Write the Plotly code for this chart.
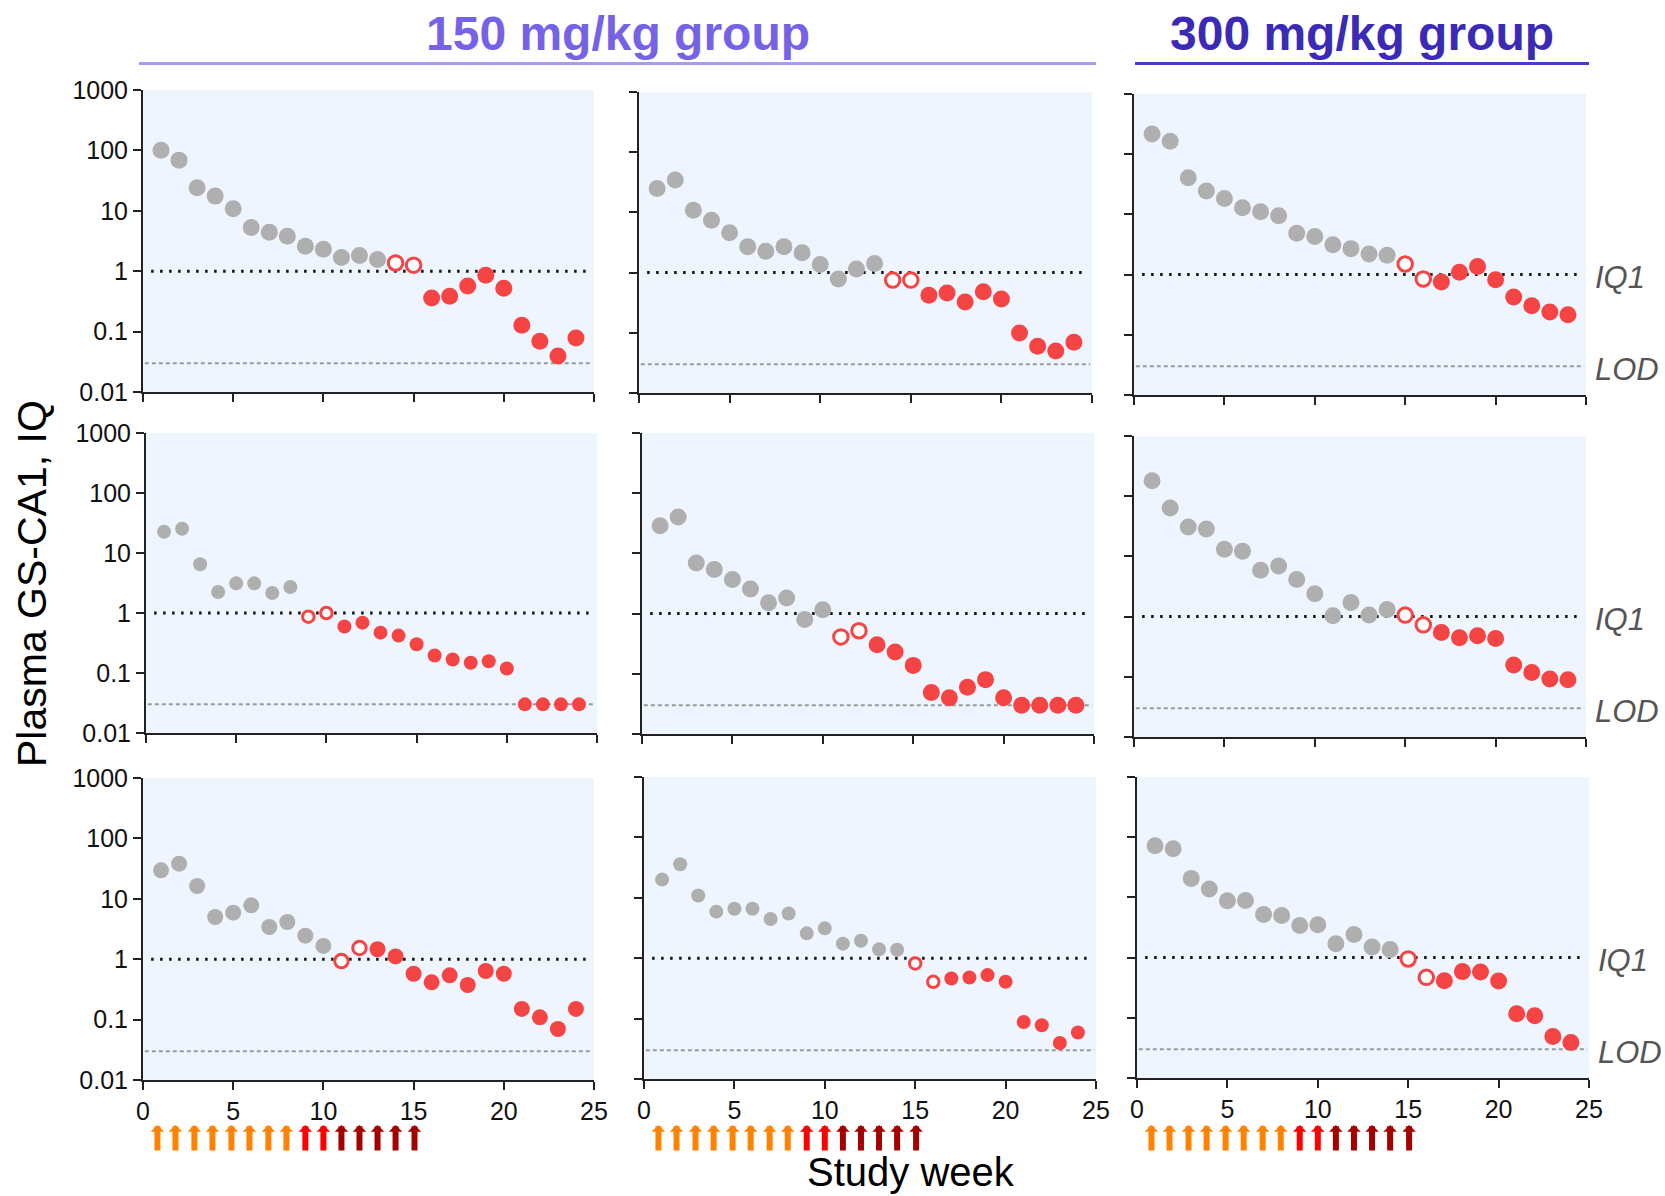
import math
import plotly.graph_objects as go

W, H = 1665, 1196

# ---------------- data ----------------
weeks = list(range(1, 25))

# Plasma GS-CA1 (IQ) per animal, panels ordered row by row
p11 = [101, 69, 24, 17.5, 10.8, 5.3, 4.4, 3.8, 2.6, 2.3, 1.69, 1.82, 1.56, 1.37, 1.26,
       0.36, 0.385, 0.57, 0.86, 0.52, 0.127, 0.069, 0.0395, 0.0785]
p12 = [25, 34.4, 10.9, 7.4, 4.6, 2.7, 2.27, 2.7, 2.13, 1.36, 0.78, 1.15, 1.42, 0.75, 0.75,
       0.42, 0.46, 0.326, 0.48, 0.365, 0.0995, 0.0597, 0.0499, 0.0697]
p13 = [217, 164, 40.7, 24.5, 18.3, 12.9, 11.1, 9.5, 4.85, 4.3, 3.14, 2.7, 2.2, 2.09, 1.5,
       0.845, 0.755, 1.09, 1.36, 0.82, 0.425, 0.305, 0.239, 0.216]
p21 = [22.6, 25.3, 6.5, 2.24, 3.12, 3.12, 2.16, 2.72, 0.87, 1.0, 0.594, 0.69, 0.47, 0.42,
       0.302, 0.196, 0.168, 0.148, 0.157, 0.119, 0.03, 0.03, 0.03, 0.03]
p22 = [28.9, 40.3, 6.9, 5.4, 3.7, 2.56, 1.52, 1.82, 0.80, 1.16, 0.41, 0.52, 0.305, 0.23,
       0.138, 0.049, 0.040, 0.0596, 0.080, 0.040, 0.03, 0.03, 0.03, 0.03]
p23 = [181, 63.8, 30.9, 28.6, 13.2, 12.2, 5.9, 6.9, 4.13, 2.39, 1.03, 1.72, 1.06, 1.31, 1.06,
       0.73, 0.546, 0.445, 0.48, 0.433, 0.157, 0.118, 0.092, 0.0895]
p31 = [29.6, 38.2, 16.3, 5.0, 5.9, 7.8, 3.41, 4.13, 2.45, 1.66, 0.93, 1.53, 1.46, 1.11, 0.575,
       0.414, 0.54, 0.374, 0.637, 0.575, 0.15, 0.109, 0.0698, 0.15]
p32 = [20, 36, 10.9, 5.9, 6.6, 6.6, 4.46, 5.5, 2.58, 3.12, 1.74, 1.95, 1.4, 1.38, 0.82,
       0.407, 0.462, 0.48, 0.525, 0.407, 0.088, 0.0777, 0.0395, 0.0587]
p33 = [72, 64.5, 20.7, 13.8, 8.8, 8.9, 5.2, 5.0, 3.4, 3.5, 1.7, 2.43, 1.5, 1.36, 0.95,
       0.47, 0.414, 0.585, 0.577, 0.408, 0.117, 0.108, 0.049, 0.039]

# G = before switch (grey), O = open red, R = filled red
s11 = "G" * 13 + "O" * 2 + "R" * 9
s12 = "G" * 13 + "O" * 2 + "R" * 9
s13 = "G" * 14 + "O" * 2 + "R" * 8
s21 = "G" * 8 + "O" * 2 + "R" * 14
s22 = "G" * 10 + "O" * 2 + "R" * 12
s23 = "G" * 14 + "O" * 2 + "R" * 8
s31 = "G" * 10 + "O" * 2 + "R" * 12
s32 = "G" * 14 + "O" * 2 + "R" * 8
s33 = "G" * 14 + "O" * 2 + "R" * 8

IQ1 = 1.0
LOD = 0.03

dose_weeks = [0.8, 1.8, 2.85, 3.85, 4.9, 5.9, 6.95, 7.95, 9.0, 10.0, 11.0, 12.0, 13.0, 14.0, 15.05]
dose_phase = ["A"] * 8 + ["B"] * 2 + ["C"] * 5

x_ticks = [0, 5, 10, 15, 20, 25]
y_ticks = [0.01, 0.1, 1, 10, 100, 1000]
y_ticklabels = ["0.01", "0.1", "1", "10", "100", "1000"]

group_titles = ["150 mg/kg group", "300 mg/kg group"]

# ---------------- styling / layout ----------------
values = [p11, p12, p13, p21, p22, p23, p31, p32, p33]
statuses = [s11, s12, s13, s21, s22, s23, s31, s32, s33]
msizes = [17, 17, 17, 14, 17, 17, 16, 14, 17]

# pixel boxes of each panel: x(week 0), x(week 25), y(1000), y(0.01)
boxes = [
    (143, 594, 90, 392), (639, 1092, 92, 393), (1134, 1586, 94, 395),
    (146, 597, 433, 733), (642, 1094, 433, 734), (1134, 1586, 436, 737),
    (143, 594, 778, 1080), (644, 1096, 777, 1079), (1137, 1589, 777, 1078),
]

FONT = "Liberation Sans, Arial, sans-serif"
GREY = "#AFAFAF"
RED = "#F54444"
BG = "#EEF5FF"
AX = "#222222"
phase_colors = {"A": "#FF8200", "B": "#FF0000", "C": "#A50000"}

fig = go.Figure()
layout = {}

for k in range(9):
    r, c = divmod(k, 3)
    n = "" if k == 0 else str(k + 1)
    xa, ya = "x" + n, "y" + n
    vals, st, ms = values[k], statuses[k], msizes[k]

    fig.add_trace(go.Scatter(x=[0.1, 24.9], y=[LOD, LOD], xaxis=xa, yaxis=ya, mode="lines",
                             line=dict(color="#9A9A9A", width=2, dash="4px,3px"),
                             hoverinfo="skip"))
    fig.add_trace(go.Scatter(x=[0.45, 24.55], y=[IQ1, IQ1], xaxis=xa, yaxis=ya, mode="lines",
                             line=dict(color="#111111", width=3, dash="2.5px,6.5px"),
                             hoverinfo="skip"))

    for kind in "GRO":
        xs = [w for w, s in zip(weeks, st) if s == kind]
        ys = [v for v, s in zip(vals, st) if s == kind]
        if kind == "G":
            mk = dict(size=ms, color=GREY, line=dict(width=0))
        elif kind == "R":
            mk = dict(size=ms, color=RED, line=dict(width=0))
        else:
            mk = dict(size=ms - 2.5, color="white", line=dict(width=3, color=RED))
        fig.add_trace(go.Scatter(x=xs, y=ys, xaxis=xa, yaxis=ya, mode="markers",
                                 marker=mk, hoverinfo="skip"))

    x0, x1, yt, yb = boxes[k]
    layout["xaxis" + n] = dict(
        domain=[x0 / W, x1 / W], range=[0, 25], anchor=ya, automargin=False,
        tickvals=x_ticks, ticktext=[str(t) for t in x_ticks], showticklabels=(r == 2),
        ticks="outside", ticklen=8, tickwidth=2, tickcolor=AX,
        showline=True, linecolor=AX, linewidth=2, showgrid=False, zeroline=False,
        tickfont=dict(family=FONT, size=25, color="#111111"),
    )
    layout["yaxis" + n] = dict(
        domain=[1 - yb / H, 1 - yt / H], type="log", range=[-2, 3], anchor=xa,
        automargin=False,
        tickvals=y_ticks, ticktext=y_ticklabels, showticklabels=(c == 0),
        ticks="outside", ticklen=8, tickwidth=2, tickcolor=AX,
        showline=True, linecolor=AX, linewidth=2, showgrid=False, zeroline=False,
        tickfont=dict(family=FONT, size=25, color="#111111"),
    )

annotations = []
# IQ1 / LOD labels on right column
for k in (2, 5, 8):
    n = str(k + 1)
    for lab, val in (("IQ1", IQ1), ("LOD", LOD)):
        annotations.append(dict(
            xref="x" + n + " domain", yref="y" + n, x=1, y=math.log10(val),
            xanchor="left", yanchor="middle", xshift=7, yshift=-3, showarrow=False,
            text="<i>" + lab + "</i>", font=dict(family=FONT, size=31, color="#555555")))

# dosing arrows under bottom row
for k in (6, 7, 8):
    n = str(k + 1)
    for w, ph in zip(dose_weeks, dose_phase):
        annotations.append(dict(
            xref="x" + n, yref="paper", x=w, y=1 - 1125 / H, ax=0, ay=27,
            text="", showarrow=True, arrowhead=1, arrowsize=0.38, arrowwidth=6,
            arrowcolor=phase_colors[ph]))

# axis titles
annotations.append(dict(xref="paper", yref="paper", x=32 / W, y=1 - 584 / H,
                        text="Plasma GS-CA1, IQ", textangle=-90, showarrow=False,
                        xanchor="center", yanchor="middle",
                        font=dict(family=FONT, size=41, color="black")))
annotations.append(dict(xref="paper", yref="paper", x=911 / W, y=1 - 1172 / H,
                        text="Study week", showarrow=False, xanchor="center", yanchor="middle",
                        font=dict(family=FONT, size=40, color="black")))

# group headers
annotations.append(dict(xref="paper", yref="paper", x=618 / W, y=1 - 33 / H,
                        text="<b>" + group_titles[0] + "</b>", showarrow=False,
                        xanchor="center", yanchor="middle",
                        font=dict(family=FONT, size=48, color="#7562E6")))
annotations.append(dict(xref="paper", yref="paper", x=1362 / W, y=1 - 33 / H,
                        text="<b>" + group_titles[1] + "</b>", showarrow=False,
                        xanchor="center", yanchor="middle",
                        font=dict(family=FONT, size=48, color="#3A2AB6")))

shapes = [
    dict(type="line", xref="paper", yref="paper", x0=139 / W, x1=1096 / W,
         y0=1 - 63.5 / H, y1=1 - 63.5 / H, line=dict(color="#A99CF0", width=3)),
    dict(type="line", xref="paper", yref="paper", x0=1135 / W, x1=1589 / W,
         y0=1 - 63.5 / H, y1=1 - 63.5 / H, line=dict(color="#4B3DC2", width=3)),
]

fig.update_layout(
    width=W, height=H, autosize=False,
    margin=dict(l=0, r=0, t=0, b=0, autoexpand=False),
    paper_bgcolor="white", plot_bgcolor=BG,
    showlegend=False, hovermode=False,
    font=dict(family=FONT, color="#111111"),
    annotations=annotations, shapes=shapes,
    **layout,
)

fig.write_html("out.html", config={"displayModeBar": False},
               post_script="document.body.style.margin='0px';")
